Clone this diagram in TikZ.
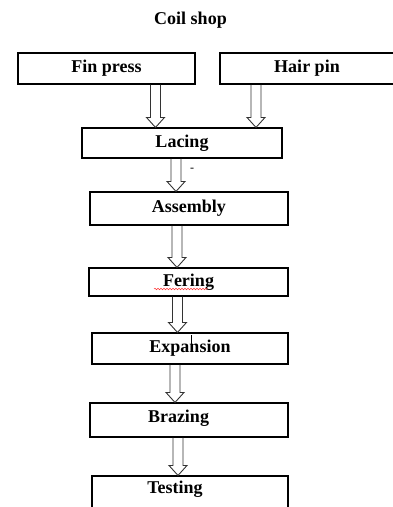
\documentclass[tikz,border=0pt]{standalone}
\usepackage{fontspec}
\setmainfont{Liberation Serif}
\usetikzlibrary{calc,decorations.pathmorphing}

\tikzset{
  stepbox/.style={draw, line width=1.1pt, rectangle, inner sep=0pt,
    font=\bfseries\fontsize{18}{20}\selectfont},
  boxtext/.style={inner sep=0pt, font=\bfseries\fontsize{18}{20}\selectfont},
  hollow/.style={draw=black!80, line width=0.9pt, line join=miter}
}
\newcommand{\shaftw}{5}  % half width of arrow shaft
\newcommand{\headw}{9}   % half width of arrow head
\newcommand{\headlen}{10} % length of arrow head
% hollow arrow: x position, from node, to node
\newcommand{\flowarrow}[3]{%
  \coordinate (top) at (#2.south -| #1,0);
  \coordinate (tip) at (#3.north -| #1,0);
  \draw[hollow] ($(top)+(-\shaftw,0)$) -- ($(tip)+(-\shaftw,-\headlen)$)
    -- ($(tip)+(-\headw,-\headlen)$) -- (tip) -- ($(tip)+(\headw,-\headlen)$)
    -- ($(tip)+(\shaftw,-\headlen)$) -- ($(top)+(\shaftw,0)$);
}

\begin{document}
\begin{tikzpicture}[x=1pt, y=-1pt]
\useasboundingbox (0,0) rectangle (393,507);
\clip (0,0) rectangle (393,507);

% title
\node[boxtext] (title) at (190.5,20) {Coil shop};

% process boxes
\node[stepbox, minimum width=177pt, minimum height=31pt] (fin)  at (106.5,68.5) {Fin press};
\node[stepbox, minimum width=174pt, minimum height=31pt] (hair) at (307,68.5) {Hair pin};
\node[stepbox, minimum width=200pt, minimum height=30pt] (lacing) at (182,143) {Lacing};
\node[stepbox, minimum width=198pt, minimum height=33pt] (assembly) at (189,208.5) {Assembly};
\node[stepbox, minimum width=199pt, minimum height=28pt] (fering) at (188.5,282) {Fering};
\node[stepbox, minimum width=196pt, minimum height=31pt] (expansion) at (190,348.5) {Expansion};
\node[stepbox, minimum width=198pt, minimum height=34pt] (brazing) at (189,420) {};
\node[stepbox, minimum width=196pt, minimum height=44pt] (testing) at (190,498) {};
\node[boxtext] (brazingtxt) at (178.5,418) {Brazing};
\node[boxtext] (testingtxt) at (175,489) {Testing};

% arrows
\flowarrow{155.5}{fin}{lacing}
\flowarrow{256}{hair}{lacing}
\flowarrow{176}{lacing}{assembly}
\flowarrow{177}{assembly}{fering}
\flowarrow{177.5}{fering}{expansion}
\flowarrow{175}{expansion}{brazing}
\flowarrow{178}{brazing}{testing}

% stray marks
\node[inner sep=0pt, font=\fontsize{12}{12}\selectfont] (dash) at (192,170) {-};
\draw[line width=1pt] (191,335) -- (191,345);
\draw[red!80, line width=0.5pt, decorate,
  decoration={snake, amplitude=0.8pt, segment length=3pt}] (154,289) -- (208,289);
\end{tikzpicture}
\end{document}
